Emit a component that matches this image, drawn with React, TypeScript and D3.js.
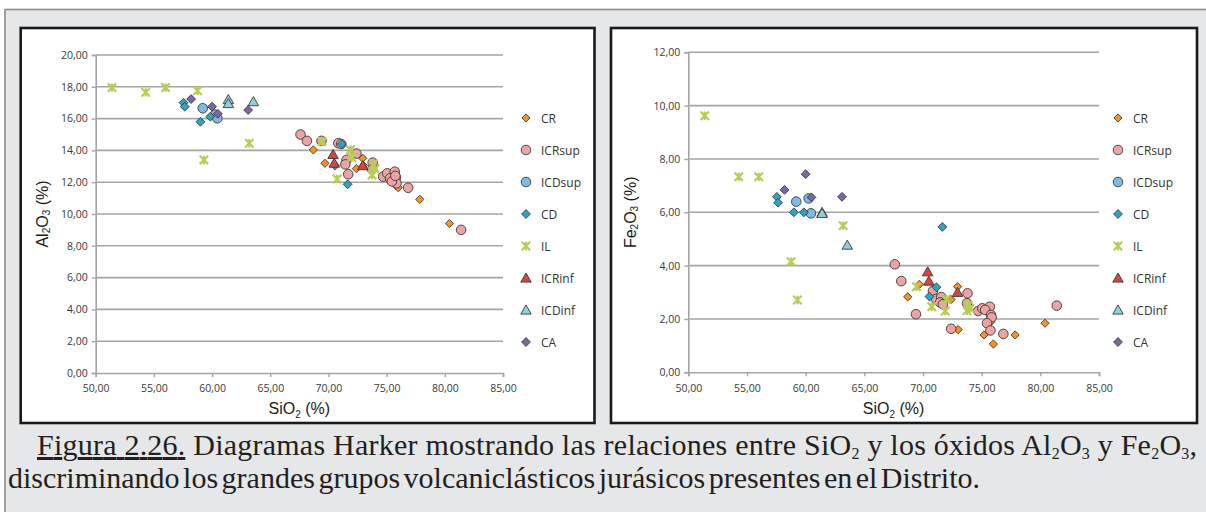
import React, { useEffect, useRef } from 'react';
import * as d3 from 'd3';

// SiO2 (x) with Al2O3 and Fe2O3 (y) for each volcaniclastic group
const CR_SI = [68.7, 69.7, 72.95, 72.4, 73.0, 75.2, 75.8, 76.0, 77.85, 80.4];
const CR_AL = [14.03, 13.19, 13.5, 12.85, 13.05, 12.2, 11.8, 11.65, 10.92, 9.4];
const CR_FE = [2.83, 3.3, 3.21, 2.73, 1.6, 1.4, 1.9, 1.06, 1.4, 1.84];

const ICRSUP_SI = [67.6, 68.15, 69.4, 70.85, 71.1, 71.55, 71.45, 71.7, 72.4, 73.8, 73.75, 74.7, 75.05, 75.7, 75.3, 75.8, 75.85, 75.45, 75.75, 76.85, 81.4];
const ICRSUP_AL = [15.0, 14.6, 14.6, 14.45, 14.4, 13.4, 13.12, 12.5, 13.8, 13.23, 12.8, 12.35, 12.56, 12.66, 12.24, 12.28, 11.93, 12.05, 12.4, 11.65, 9.0];
const ICRSUP_FE = [4.05, 3.42, 2.18, 3.05, 2.75, 2.82, 2.62, 2.55, 1.63, 2.96, 2.59, 2.3, 2.4, 2.46, 2.34, 2.15, 2.06, 1.84, 1.57, 1.44, 2.5];

const ICDSUP_SI = [59.2, 60.25, 60.45];
const ICDSUP_AL = [16.65, 16.25, 16.02];
const ICDSUP_FE = [6.4, 6.52, 5.96];

const CD_SI = [57.55, 57.65, 59.0, 59.85, 71.15, 70.55, 71.65];
const CD_AL = [17.0, 16.75, 15.8, 16.12, 14.4, 13.05, 11.87];
const CD_FE = [6.58, 6.36, 6.0, 6.0, 3.19, 2.84, 5.45];

const IL_SI = [51.4, 54.3, 56.0, 58.75, 59.3, 63.2, 69.45, 70.75, 71.9, 72.0, 73.85, 73.75, 74.0];
const IL_AL = [17.95, 17.65, 17.95, 17.75, 13.4, 14.45, 14.55, 12.2, 14.05, 13.55, 13.1, 12.45, 12.85];
const IL_FE = [9.62, 7.33, 7.33, 4.15, 2.71, 5.5, 3.21, 2.46, 2.3, 2.74, 2.52, 2.31, 2.4];

const ICRINF_SI = [70.4, 70.5, 72.95];
const ICRINF_AL = [13.75, 13.2, 13.04];
const ICRINF_FE = [3.77, 3.42, 3.0];

const ICDINF_SI = [61.4, 61.4, 63.55];
const ICDINF_AL = [17.2, 16.95, 17.07];
const ICDINF_FE = [6.0, 5.96, 4.77];

const CA_SI = [58.2, 60.0, 60.5, 63.1];
const CA_AL = [17.23, 16.75, 16.3, 16.54];
const CA_FE = [6.84, 7.43, 6.56, 6.58];

const X_TICKS = [50, 55, 60, 65, 70, 75, 80, 85];
const AL_TICKS = [0, 2, 4, 6, 8, 10, 12, 14, 16, 18, 20];
const FE_TICKS = [0, 2, 4, 6, 8, 10, 12];

const SERIES = [
  { name: 'CR', si: CR_SI, al: CR_AL, fe: CR_FE, shape: 'diamond', fill: '#f7931e', r: 4.1 },
  { name: 'ICRsup', si: ICRSUP_SI, al: ICRSUP_AL, fe: ICRSUP_FE, shape: 'circle', fill: '#eba3a3', r: 4.8 },
  { name: 'ICDsup', si: ICDSUP_SI, al: ICDSUP_AL, fe: ICDSUP_FE, shape: 'circle', fill: '#80b9e3', r: 4.8 },
  { name: 'CD', si: CD_SI, al: CD_AL, fe: CD_FE, shape: 'diamond', fill: '#2fa3c2', r: 4.4 },
  { name: 'IL', si: IL_SI, al: IL_AL, fe: IL_FE, shape: 'star', fill: '#b7cd55', r: 4.2 },
  { name: 'ICRinf', si: ICRINF_SI, al: ICRINF_AL, fe: ICRINF_FE, shape: 'triangle', fill: '#d8453e', r: 5 },
  { name: 'ICDinf', si: ICDINF_SI, al: ICDINF_AL, fe: ICDINF_FE, shape: 'triangle', fill: '#8fd0da', r: 5 },
  { name: 'CA', si: CA_SI, al: CA_AL, fe: CA_FE, shape: 'diamond', fill: '#7d65a8', r: 4.4 },
];

const CHARTS = [
  { box: [20.7, 28, 594.5, 423], plot: [95.7, 55, 503, 373], yMax: 20, yTicks: AL_TICKS, key: 'al', ox: 'Al', legendX: 526, titleX: 42 },
  { box: [611, 28, 1197, 423], plot: [688.3, 52.3, 1099, 372.3], yMax: 12, yTicks: FE_TICKS, key: 'fe', ox: 'Fe', legendX: 1118, titleX: 630 },
];

const fmt = d3.formatLocale({ decimal: ',', thousands: '.', grouping: [3], currency: ['', ''] }).format('.2f');
const TICK_FONT = '"Open Sans", "Noto Sans", sans-serif';
const TITLE_FONT = '"Liberation Sans", Arial, sans-serif';
const SERIF = '"Liberation Serif", "Times New Roman", serif';

function markerPath(shape: string, r: number) {
  if (shape === 'diamond') return `M0,${-r}L${r},0L0,${r}L${-r},0Z`;
  if (shape === 'triangle') return `M0,${-r}L${r * 1.05},${r * 0.82}L${-r * 1.05},${r * 0.82}Z`;
  if (shape === 'star') return `M${-r},${-r}L${r},${r}M${r},${-r}L${-r},${r}M0,${-r}L0,${r}`;
  return d3.symbol().type(d3.symbolCircle).size(Math.PI * r * r)() as string;
}

function drawMarker(sel: any, s: any) {
  sel.attr('d', markerPath(s.shape, s.r));
  if (s.shape === 'star') {
    sel.attr('fill', 'none').attr('stroke', s.fill).attr('stroke-width', 2.2);
  } else {
    sel.attr('fill', s.fill).attr('stroke', '#3a3a3a').attr('stroke-width', 0.9);
  }
}

// axis title with subscripts, e.g. Al2O3 (%)
function subTitle(text: any, parts: string[]) {
  parts.forEach((p, i) => {
    const isSub = i % 2 === 1 && i < 4;
    text.append('tspan')
      .attr('font-size', isSub ? 10 : 16)
      .attr('dy', isSub ? 4 : (i === 0 ? 0 : -4))
      .text(p);
  });
}

export default function App() {
  const ref = useRef<SVGSVGElement>(null);

  useEffect(() => {
    const svg = d3.select(ref.current);
    svg.selectAll('*').remove();

    // grey page frame
    svg.append('rect').attr('x', 5).attr('y', 9.5).attr('width', 1220).attr('height', 520)
      .attr('fill', '#e6e7e8').attr('stroke', '#8c8c8c').attr('stroke-width', 1.6);

    CHARTS.forEach(c => {
      const [bx0, by0, bx1, by1] = c.box;
      const [pl, pt, pr, pb] = c.plot;
      const g = svg.append('g');
      g.append('rect').attr('x', bx0).attr('y', by0).attr('width', bx1 - bx0).attr('height', by1 - by0)
        .attr('fill', '#fff').attr('stroke', '#1a1a1a').attr('stroke-width', 2.6);

      const x = d3.scaleLinear().domain([50, 85]).range([pl, pr]);
      const y = d3.scaleLinear().domain([0, c.yMax]).range([pb, pt]);

      // gridlines
      g.selectAll('line.grid').data(c.yTicks.filter(t => t > 0)).join('line')
        .attr('x1', pl).attr('x2', pr).attr('y1', d => y(d)).attr('y2', d => y(d))
        .attr('stroke', '#a5a5a5').attr('stroke-width', 1.6);

      const yAxis = g.append('g').attr('transform', `translate(${pl},0)`)
        .call(d3.axisLeft(y).tickValues(c.yTicks).tickFormat(d => fmt(d as number)).tickSize(4).tickPadding(4));
      const xAxis = g.append('g').attr('transform', `translate(0,${pb})`)
        .call(d3.axisBottom(x).tickValues(X_TICKS).tickFormat(d => fmt(d as number)).tickSize(4).tickPadding(8));
      [yAxis, xAxis].forEach(a => {
        a.select('.domain').attr('stroke', '#a5a5a5').attr('stroke-width', 1.6);
        a.selectAll('.tick line').attr('stroke', '#a5a5a5').attr('stroke-width', 1.4);
        a.selectAll('.tick text').attr('font-family', TICK_FONT).attr('font-size', 10.5).attr('fill', '#3a3a3a');
      });

      // axis titles
      const xt = g.append('text').attr('x', (pl + pr) / 2).attr('y', 414).attr('text-anchor', 'middle')
        .attr('font-family', TITLE_FONT).attr('fill', '#1a1a1a');
      subTitle(xt, ['SiO', '2', '', '', ' (%)']);
      const yt = g.append('text').attr('transform', `translate(${c.titleX},${(pt + pb) / 2}) rotate(-90)`)
        .attr('text-anchor', 'middle').attr('dominant-baseline', 'central')
        .attr('font-family', TITLE_FONT).attr('fill', '#1a1a1a');
      subTitle(yt, [c.ox, '2', 'O', '3', ' (%)']);

      // points
      SERIES.forEach(s => {
        const vals = (s as any)[c.key] as number[];
        g.append('g').selectAll('path').data(d3.range(s.si.length)).join('path')
          .attr('transform', i => `translate(${x(s.si[i])},${y(vals[i])})`)
          .call(sel => drawMarker(sel, s));
      });

      // legend
      const leg = g.append('g');
      SERIES.forEach((s, i) => {
        const ly = 118 + i * 32;
        leg.append('path').attr('transform', `translate(${c.legendX},${ly})`).call(sel => drawMarker(sel, s));
        leg.append('text').attr('x', c.legendX + 15).attr('y', ly).attr('dominant-baseline', 'central')
          .attr('font-family', TICK_FONT).attr('font-size', 12).attr('fill', '#333').text(s.name);
      });
    });

    // caption
    const cap1 = svg.append('text').attr('x', 37).attr('y', 455)
      .attr('font-family', SERIF).attr('font-size', 30).attr('fill', '#231f20')
      .attr('textLength', 1160).attr('lengthAdjust', 'spacing');
    const line1 = [
      ['Figura 2.26.', 'u'], [' Diagramas Harker mostrando las relaciones entre SiO', ''], ['2', 's'],
      [' y los óxidos Al', ''], ['2', 's'], ['O', ''], ['3', 's'], [' y Fe', ''], ['2', 's'], ['O', ''], ['3', 's'], [',', ''],
    ];
    let down = false;
    line1.forEach(([t, k]) => {
      const ts = cap1.append('tspan').text(t);
      if (k === 'u') ts.attr('text-decoration', 'underline');
      if (k === 's') { ts.attr('font-size', 16).attr('dy', down ? 0 : 4); down = true; }
      else if (down) { ts.attr('dy', -4); down = false; }
    });
    svg.append('text').attr('x', 8).attr('y', 488)
      .attr('font-family', SERIF).attr('font-size', 30).attr('fill', '#231f20')
      .attr('word-spacing', -4).attr('textLength', 972).attr('lengthAdjust', 'spacingAndGlyphs')
      .text('discriminando los grandes grupos volcaniclásticos jurásicos presentes en el Distrito.');
  }, []);

  return (
    <svg ref={ref} width={1206} height={512} style={{ position: 'absolute', left: 0, top: 0, background: '#fff' }} />
  );
}
